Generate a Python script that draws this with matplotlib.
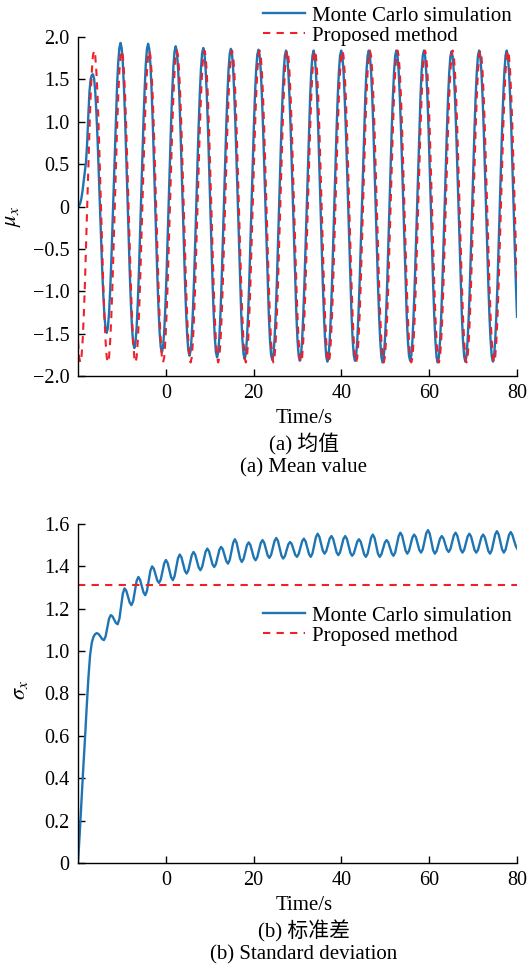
import numpy as np
import matplotlib
matplotlib.use("Agg")
import matplotlib.pyplot as plt

plt.rcParams['font.family'] = ['Liberation Serif', 'Noto Sans CJK SC']
plt.rcParams['mathtext.fontset'] = 'stix'
plt.rcParams['axes.unicode_minus'] = True

# ---- data ----
# (a) mean value, sampled every pi/12 s starting at the left edge of the axis
mc_mean = [
    0.00, 0.01, 0.04, 0.10, 0.19, 0.30, 0.41, 0.53, 0.76, 1.08, 1.36, 1.50, 1.55, 1.56,
    1.51, 1.36, 1.11, 0.80, 0.43, 0.04, -0.36, -0.73, -1.04, -1.29, -1.44, -1.49,
    -1.43, -1.26, -0.99, -0.64, -0.22, 0.22, 0.66, 1.08, 1.43, 1.70, 1.87, 1.93,
    1.87, 1.69, 1.40, 1.03, 0.60, 0.13, -0.34, -0.77, -1.14, -1.43, -1.61, -1.67,
    -1.61, -1.43, -1.14, -0.77, -0.34, 0.13, 0.59, 1.02, 1.39, 1.68, 1.86, 1.92,
    1.86, 1.68, 1.39, 1.01, 0.57, 0.10, -0.37, -0.81, -1.19, -1.48, -1.66, -1.72,
    -1.66, -1.48, -1.19, -0.82, -0.38, 0.09, 0.55, 0.99, 1.36, 1.65, 1.83, 1.89,
    1.83, 1.65, 1.36, 0.98, 0.54, 0.07, -0.41, -0.85, -1.23, -1.52, -1.70, -1.76,
    -1.70, -1.52, -1.23, -0.85, -0.42, 0.06, 0.53, 0.96, 1.34, 1.63, 1.81, 1.87,
    1.81, 1.63, 1.34, 0.96, 0.52, 0.05, -0.43, -0.87, -1.25, -1.54, -1.72, -1.78,
    -1.72, -1.54, -1.25, -0.87, -0.43, 0.04, 0.51, 0.95, 1.33, 1.62, 1.80, 1.86,
    1.80, 1.62, 1.32, 0.95, 0.50, 0.03, -0.44, -0.89, -1.26, -1.56, -1.74, -1.80,
    -1.74, -1.56, -1.27, -0.89, -0.45, 0.03, 0.50, 0.94, 1.32, 1.61, 1.79, 1.85,
    1.79, 1.61, 1.31, 0.94, 0.49, 0.02, -0.45, -0.90, -1.27, -1.57, -1.75, -1.81,
    -1.75, -1.57, -1.28, -0.90, -0.46, 0.02, 0.49, 0.93, 1.31, 1.60, 1.78, 1.84,
    1.78, 1.60, 1.30, 0.93, 0.48, 0.01, -0.46, -0.91, -1.28, -1.58, -1.76, -1.82,
    -1.76, -1.58, -1.28, -0.91, -0.46, 0.01, 0.48, 0.93, 1.30, 1.60, 1.78, 1.84,
    1.78, 1.59, 1.30, 0.92, 0.48, 0.01, -0.47, -0.91, -1.29, -1.58, -1.77, -1.83,
    -1.77, -1.58, -1.29, -0.91, -0.47, 0.01, 0.48, 0.92, 1.30, 1.59, 1.78, 1.84,
    1.78, 1.60, 1.30, 0.93, 0.48, 0.01, -0.46, -0.91, -1.28, -1.58, -1.76, -1.82,
    -1.76, -1.58, -1.28, -0.91, -0.46, 0.01, 0.48, 0.93, 1.30, 1.60, 1.78, 1.84,
    1.78, 1.59, 1.30, 0.92, 0.48, 0.00, -0.48, -0.92, -1.30, -1.59, -1.78, -1.84,
    -1.78, -1.59, -1.30, -0.92, -0.48, 0.00, 0.48, 0.92, 1.30, 1.59, 1.78, 1.84,
    1.78, 1.60, 1.30, 0.93, 0.48, 0.01, -0.46, -0.91, -1.28, -1.58, -1.76, -1.82,
    -1.76, -1.58, -1.28, -0.91, -0.46, 0.01, 0.48, 0.93, 1.30, 1.60, 1.78, 1.84,
    1.78, 1.59, 1.30, 0.92, 0.48, 0.00, -0.48, -0.92, -1.30, -1.59, -1.78, -1.84,
    -1.78, -1.59, -1.30, -0.92, -0.48, -0.01, 0.47, 0.91, 1.29, 1.58, 1.77, 1.83,
    1.77, 1.59, 1.29, 0.92, 0.47, 0.00, -0.47, -0.92, -1.29, -1.59, -1.77, -1.83,
    -1.77, -1.58, -1.29, -0.91, -0.47, 0.01, 0.48, 0.92, 1.30, 1.59, 1.78, 1.84,
    1.78, 1.59, 1.30, 0.92, 0.48, 0.01, -0.47, -0.91, -1.29, -1.58, -1.77, -1.83,
    -1.77, -1.58, -1.29, -0.91, -0.47, 0.01, 0.48, 0.92, 1.30, 1.59, 1.78, 1.84,
    1.78, 1.59, 1.30, 0.92, 0.48, 0.00, -0.48, -0.92, -1.30,
]

prop_mean = [
    -1.59, -1.78, -1.84, -1.78, -1.59, -1.30, -0.92, -0.48, 0.00, 0.48, 0.92, 1.30, 1.59, 1.78, 1.84, 1.78, 1.59, 1.30, 0.92, 0.48, 0.00, -0.48, -0.92, -1.30,
    -1.59, -1.78, -1.84, -1.78, -1.59, -1.30, -0.92, -0.48, 0.00, 0.48, 0.92, 1.30, 1.59, 1.78, 1.84, 1.78, 1.59, 1.30, 0.92, 0.48, 0.00, -0.48, -0.92, -1.30,
    -1.59, -1.78, -1.84, -1.78, -1.59, -1.30, -0.92, -0.48, 0.00, 0.48, 0.92, 1.30, 1.59, 1.78, 1.84, 1.78, 1.59, 1.30, 0.92, 0.48, 0.00, -0.48, -0.92, -1.30,
    -1.59, -1.78, -1.84, -1.78, -1.59, -1.30, -0.92, -0.48, 0.00, 0.48, 0.92, 1.30, 1.59, 1.78, 1.84, 1.78, 1.59, 1.30, 0.92, 0.48, 0.00, -0.48, -0.92, -1.30,
    -1.59, -1.78, -1.84, -1.78, -1.59, -1.30, -0.92, -0.48, 0.00, 0.48, 0.92, 1.30, 1.59, 1.78, 1.84, 1.78, 1.59, 1.30, 0.92, 0.48, 0.00, -0.48, -0.92, -1.30,
    -1.59, -1.78, -1.84, -1.78, -1.59, -1.30, -0.92, -0.48, 0.00, 0.48, 0.92, 1.30, 1.59, 1.78, 1.84, 1.78, 1.59, 1.30, 0.92, 0.48, 0.00, -0.48, -0.92, -1.30,
    -1.59, -1.78, -1.84, -1.78, -1.59, -1.30, -0.92, -0.48, 0.00, 0.48, 0.92, 1.30, 1.59, 1.78, 1.84, 1.78, 1.59, 1.30, 0.92, 0.48, 0.00, -0.48, -0.92, -1.30,
    -1.59, -1.78, -1.84, -1.78, -1.59, -1.30, -0.92, -0.48, 0.00, 0.48, 0.92, 1.30, 1.59, 1.78, 1.84, 1.78, 1.59, 1.30, 0.92, 0.48, 0.00, -0.48, -0.92, -1.30,
    -1.59, -1.78, -1.84, -1.78, -1.59, -1.30, -0.92, -0.48, 0.00, 0.48, 0.92, 1.30, 1.59, 1.78, 1.84, 1.78, 1.59, 1.30, 0.92, 0.48, 0.00, -0.48, -0.92, -1.30,
    -1.59, -1.78, -1.84, -1.78, -1.59, -1.30, -0.92, -0.48, 0.00, 0.48, 0.92, 1.30, 1.59, 1.78, 1.84, 1.78, 1.59, 1.30, 0.92, 0.48, 0.00, -0.48, -0.92, -1.30,
    -1.59, -1.78, -1.84, -1.78, -1.59, -1.30, -0.92, -0.48, 0.00, 0.48, 0.92, 1.30, 1.59, 1.78, 1.84, 1.78, 1.59, 1.30, 0.92, 0.48, 0.00, -0.48, -0.92, -1.30,
    -1.59, -1.78, -1.84, -1.78, -1.59, -1.30, -0.92, -0.48, 0.00, 0.48, 0.92, 1.30, 1.59, 1.78, 1.84, 1.78, 1.59, 1.30, 0.92, 0.48, 0.00, -0.48, -0.92, -1.30,
    -1.59, -1.78, -1.84, -1.78, -1.59, -1.30, -0.92, -0.48, 0.00, 0.48, 0.92, 1.30, 1.59, 1.78, 1.84, 1.78, 1.59, 1.30, 0.92, 0.48, 0.00, -0.48, -0.92, -1.30,
    -1.59, -1.78, -1.84, -1.78, -1.59, -1.30, -0.92, -0.48, 0.00, 0.48, 0.92, 1.30, 1.59, 1.78, 1.84, 1.78, 1.59, 1.30, 0.92, 0.48, 0.00, -0.48, -0.92, -1.30,
    -1.59, -1.78, -1.84, -1.78, -1.59, -1.30, -0.92, -0.48, 0.00, 0.48, 0.92, 1.30, 1.59, 1.78, 1.84, 1.78, 1.59, 1.30, 0.92, 0.48, 0.00, -0.48, -0.92, -1.30,
    -1.59, -1.78, -1.84, -1.78, -1.59, -1.30, -0.92, -0.48, 0.00, 0.48, 0.92, 1.30, 1.59, 1.78, 1.84, 1.78, 1.59, 1.30, 0.92, 0.48, 0.00, -0.48, -0.92,
]

# (b) standard deviation, sampled every pi/8 s
mc_std = [
    0.00, 0.14, 0.29, 0.44, 0.58, 0.73, 0.87, 0.98, 1.04, 1.068, 1.081, 1.085,
    1.080, 1.069, 1.057, 1.052, 1.069, 1.111, 1.153, 1.170,
    1.164, 1.149, 1.133, 1.127, 1.152, 1.212, 1.271, 1.296,
    1.285, 1.257, 1.229, 1.217, 1.236, 1.284, 1.331, 1.350,
    1.337, 1.307, 1.277, 1.264, 1.284, 1.332, 1.380, 1.400,
    1.389, 1.361, 1.333, 1.322, 1.338, 1.376, 1.414, 1.430,
    1.416, 1.383, 1.349, 1.335, 1.353, 1.396, 1.438, 1.456,
    1.443, 1.411, 1.379, 1.366, 1.381, 1.417, 1.453, 1.468,
    1.455, 1.425, 1.395, 1.382, 1.397, 1.433, 1.469, 1.484,
    1.471, 1.441, 1.410, 1.397, 1.411, 1.445, 1.478, 1.492,
    1.481, 1.453, 1.425, 1.413, 1.430, 1.471, 1.511, 1.528,
    1.512, 1.475, 1.437, 1.421, 1.434, 1.467, 1.500, 1.513,
    1.501, 1.471, 1.441, 1.429, 1.443, 1.477, 1.510, 1.524,
    1.512, 1.482, 1.452, 1.440, 1.454, 1.487, 1.520, 1.534,
    1.520, 1.486, 1.451, 1.437, 1.448, 1.476, 1.504, 1.515,
    1.505, 1.480, 1.455, 1.445, 1.458, 1.488, 1.518, 1.531,
    1.518, 1.488, 1.458, 1.445, 1.461, 1.500, 1.538, 1.554,
    1.540, 1.507, 1.474, 1.460, 1.472, 1.502, 1.531, 1.543,
    1.530, 1.498, 1.466, 1.453, 1.466, 1.498, 1.530, 1.543,
    1.529, 1.497, 1.464, 1.450, 1.461, 1.489, 1.517, 1.528,
    1.516, 1.487, 1.457, 1.445, 1.460, 1.498, 1.535, 1.550,
    1.535, 1.498, 1.460, 1.445, 1.457, 1.485, 1.513, 1.524,
    1.513, 1.487, 1.461, 1.450, 1.466, 1.505, 1.543, 1.559,
    1.545, 1.510, 1.475, 1.460, 1.473, 1.505, 1.537, 1.550,
    1.538, 1.508, 1.477, 1.465, 1.481, 1.518, 1.556, 1.571,
    1.555, 1.516, 1.476, 1.460, 1.472, 1.502, 1.531, 1.543,
    1.532, 1.506, 1.479, 1.468, 1.481, 1.514, 1.546, 1.559,
    1.545, 1.512, 1.479, 1.465, 1.478, 1.510, 1.541, 1.554,
    1.541, 1.510, 1.478, 1.465, 1.477, 1.508, 1.538, 1.550,
    1.537, 1.505, 1.473, 1.460, 1.476, 1.513, 1.551, 1.566,
    1.551, 1.516, 1.480, 1.465, 1.479, 1.514, 1.548, 1.562,
    1.548, 1.520, 1.495, 1.480,
]
prop_std = 1.313

t_start = -20
mean_step = np.pi / 12
std_step = np.pi / 8

x_ticks = [0, 20, 40, 60, 80]
mean_ticks = [-2.0, -1.5, -1.0, -0.5, 0, 0.5, 1.0, 1.5, 2.0]
mean_ticklabels = ['\u22122.0', '\u22121.5', '\u22121.0', '\u22120.5', '0', '0.5', '1.0', '1.5', '2.0']
std_ticks = [0, 0.2, 0.4, 0.6, 0.8, 1.0, 1.2, 1.4, 1.6]
std_ticklabels = ['0', '0.2', '0.4', '0.6', '0.8', '1.0', '1.2', '1.4', '1.6']

labels = ['Monte Carlo simulation', 'Proposed method']
c_mc = '#1f75b3'
c_prop = '#f0202a'

W, H = 530, 968
fig = plt.figure(figsize=(W / 100, H / 100), dpi=100)
ax1 = fig.add_axes([78 / W, 1 - 376 / H, 439 / W, 339 / H])
ax2 = fig.add_axes([78 / W, 1 - 863 / H, 439 / W, 339 / H])

t_mc = t_start + np.arange(len(mc_mean)) * mean_step
t_pr = t_start + np.arange(len(prop_mean)) * mean_step
ax1.plot(t_mc, mc_mean, color=c_mc, lw=1.7, label=labels[0])
ax1.plot(t_pr, prop_mean, color=c_prop, lw=1.5, dashes=(3.5, 3), label=labels[1])

t_std = t_start + np.arange(len(mc_std)) * std_step
ax2.plot(t_std, mc_std, color=c_mc, lw=1.7, label=labels[0])
ax2.axhline(prop_std, color=c_prop, lw=1.5, dashes=(3.5, 3), label=labels[1])

for ax in (ax1, ax2):
    ax.set_xlim(-20, 80)
    ax.set_xticks(x_ticks)
    ax.spines['top'].set_visible(False)
    ax.spines['right'].set_visible(False)
    for s in ('left', 'bottom'):
        ax.spines[s].set_linewidth(1.0)
    ax.tick_params(direction='in', length=5, width=1.0, labelsize=14.5, pad=6)

ax1.set_ylim(-2, 2)
ax1.set_yticks(mean_ticks)
ax1.set_yticklabels(mean_ticklabels)
ax1.set_ylabel(r'$\mu_x$', fontsize=16)
ax1.yaxis.set_label_coords(-0.125, 0.47)

ax2.set_ylim(0, 1.6)
ax2.set_yticks(std_ticks)
ax2.set_yticklabels(std_ticklabels)
ax2.set_ylabel(r'$\sigma_x$', fontsize=16)
ax2.yaxis.set_label_coords(-0.11, 0.51)

leg_kw = dict(loc='upper left', frameon=False, fontsize=15, borderpad=0,
              borderaxespad=0, handlelength=2.0, handletextpad=0.35,
              labelspacing=0.02)
ax1.legend(bbox_to_anchor=((263 - 78) / 439, (376 - 6) / 339), **leg_kw)
ax2.legend(bbox_to_anchor=((263 - 78) / 439, (863 - 606) / 339), **leg_kw)

cx = 304 / W
for y, txt in [(418, 'Time/s'), (444, '(a) 均值'), (468, '(a) Mean value'),
               (905, 'Time/s'), (931, '(b) 标准差'), (955, '(b) Standard deviation')]:
    fig.text(cx, 1 - y / H, txt, ha='center', va='center', fontsize=15)

fig.savefig('out.png', dpi=100)
